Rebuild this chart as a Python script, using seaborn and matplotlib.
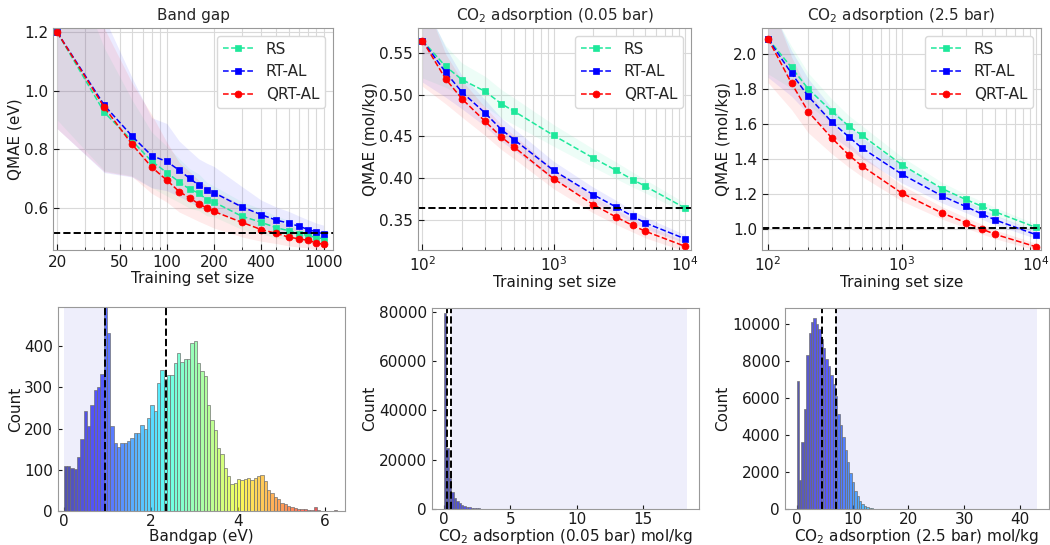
import numpy as np
import pandas as pd
import seaborn as sns
import matplotlib
matplotlib.use("Agg")
import matplotlib.pyplot as plt
from matplotlib.ticker import FixedLocator, ScalarFormatter, NullFormatter, LogLocator

# ---- learning curves (QMAE vs training set size) ----
bg_sizes = [20, 40, 60, 80, 100, 120, 140, 160, 180, 200, 300, 400, 500, 600, 700, 800, 900, 1000]
bg_rs = [1.20, 0.926, 0.829, 0.759, 0.720, 0.688, 0.663, 0.650, 0.627, 0.619, 0.571, 0.550, 0.531, 0.521, 0.511, 0.504, 0.498, 0.493]
bg_rt = [1.20, 0.950, 0.845, 0.778, 0.758, 0.728, 0.700, 0.677, 0.662, 0.651, 0.603, 0.576, 0.557, 0.547, 0.536, 0.525, 0.517, 0.510]
bg_qrt = [1.20, 0.943, 0.817, 0.739, 0.694, 0.655, 0.633, 0.613, 0.599, 0.587, 0.550, 0.525, 0.512, 0.499, 0.493, 0.488, 0.479, 0.474]
# band half widths (below, above)
bg_rs_lo = [0.30, 0.20, 0.12, 0.09, 0.08, 0.07, 0.065, 0.06, 0.055, 0.05, 0.045, 0.04, 0.035, 0.03, 0.028, 0.026, 0.024, 0.022]
bg_rs_hi = [0.35, 0.22, 0.14, 0.10, 0.09, 0.08, 0.07, 0.065, 0.06, 0.055, 0.05, 0.045, 0.04, 0.035, 0.03, 0.028, 0.026, 0.024]
bg_rt_lo = [0.33, 0.23, 0.14, 0.11, 0.10, 0.09, 0.08, 0.075, 0.07, 0.065, 0.05, 0.045, 0.04, 0.035, 0.033, 0.03, 0.028, 0.027]
bg_rt_hi = [0.40, 0.30, 0.20, 0.13, 0.13, 0.10, 0.095, 0.09, 0.09, 0.09, 0.07, 0.05, 0.045, 0.04, 0.035, 0.033, 0.03, 0.03]
bg_qrt_lo = [0.33, 0.22, 0.11, 0.09, 0.075, 0.07, 0.065, 0.06, 0.058, 0.057, 0.05, 0.04, 0.035, 0.03, 0.028, 0.026, 0.022, 0.02]
bg_qrt_hi = [0.40, 0.27, 0.21, 0.18, 0.13, 0.10, 0.09, 0.08, 0.075, 0.07, 0.06, 0.05, 0.045, 0.04, 0.035, 0.032, 0.03, 0.028]
bg_ref = 0.513

co2_sizes = [100, 150, 200, 300, 400, 500, 1000, 2000, 3000, 4000, 5000, 10000]
p005_rs = [0.565, 0.534, 0.518, 0.504, 0.489, 0.480, 0.451, 0.424, 0.409, 0.398, 0.390, 0.364]
p005_rt = [0.565, 0.527, 0.503, 0.478, 0.458, 0.446, 0.409, 0.380, 0.365, 0.354, 0.346, 0.327]
p005_qrt = [0.565, 0.519, 0.495, 0.468, 0.449, 0.437, 0.399, 0.368, 0.353, 0.343, 0.336, 0.318]
p005_rs_sd = [0.045, 0.025, 0.02, 0.018, 0.017, 0.016, 0.013, 0.011, 0.010, 0.009, 0.008, 0.006]
p005_rt_sd = [0.05, 0.03, 0.02, 0.016, 0.014, 0.013, 0.011, 0.009, 0.008, 0.007, 0.007, 0.005]
p005_qrt_sd = [0.055, 0.03, 0.022, 0.017, 0.015, 0.014, 0.012, 0.010, 0.009, 0.008, 0.008, 0.006]
p005_ref = 0.3645

p25_rs = [2.086, 1.922, 1.800, 1.672, 1.589, 1.537, 1.368, 1.232, 1.170, 1.130, 1.099, 1.011]
p25_rt = [2.086, 1.888, 1.758, 1.611, 1.528, 1.465, 1.314, 1.190, 1.130, 1.086, 1.053, 0.970]
p25_qrt = [2.086, 1.832, 1.670, 1.520, 1.425, 1.362, 1.206, 1.093, 1.038, 1.000, 0.971, 0.901]
p25_rs_sd = [0.20, 0.12, 0.09, 0.07, 0.06, 0.055, 0.045, 0.035, 0.03, 0.028, 0.025, 0.02]
p25_rt_sd = [0.22, 0.13, 0.10, 0.08, 0.065, 0.06, 0.05, 0.04, 0.035, 0.03, 0.028, 0.022]
p25_qrt_sd = [0.25, 0.15, 0.12, 0.09, 0.07, 0.06, 0.045, 0.035, 0.03, 0.028, 0.025, 0.02]
p25_ref = 1.008

# ---- property distributions (histogram counts) ----
bg_bin_width = 0.0766
bg_max = 6.28
bg_counts = [110, 108, 104, 102, 131, 174, 243, 206, 258, 293, 301, 333, 500, 431,
             206, 165, 156, 164, 164, 170, 178, 190, 190, 208, 198, 226, 256, 243,
             311, 343, 321, 329, 331, 358, 384, 361, 370, 369, 407, 412,
             359, 339, 327, 256, 221, 197, 152, 138, 105, 85, 66, 68, 78, 75, 78,
             80, 74, 80, 86, 88, 72,
             52, 43, 34, 28, 20, 16, 11, 9, 7, 6, 6, 4, 3, 3, 9, 2, 1, 1, 0, 1, 2]
bg_cuts = [0.94, 2.34]
bg_shade = (0.0, 0.94)

p005_bin_width = 0.183
p005_max = 18.3
p005_counts = [79400, 24800, 12500, 6900, 4550, 3200, 2300, 1700, 1250, 950, 700, 520,
               400, 300, 230, 180, 140, 110, 85, 65, 50, 40, 32, 25, 20, 16, 13, 10,
               8, 6, 5, 4, 3, 3, 2, 2, 1, 1]
p005_cuts = [0.2, 0.55]
p005_shade = (0.55, 18.3)

p25_bin_width = 0.43
p25_max = 43.0
p25_counts = [6900, 1550, 3600, 5400, 8300, 9500, 10100, 10300, 10000, 9700, 9200,
              8700, 8100, 7700, 7250, 6750, 6100, 5150, 4550, 3900, 3200, 2550, 1950,
              1450, 1000, 700, 450, 280, 170, 100, 60, 35, 20, 12, 8, 5, 3, 2, 1, 1]
p25_cuts = [4.5, 7.1]
p25_shade = (7.1, 43.0)

names = ["RS", "RT-AL", "QRT-AL"]
colors = ["#1ee89b", "#0000ff", "#ff0000"]
markers = ["s", "s", "o"]

sns.set_style("whitegrid")
plt.rcParams.update({
    "font.family": ["DejaVu Sans"],
    "font.size": 11,
    "axes.edgecolor": "0.6",
    "grid.color": "0.85",
    "axes.labelcolor": "0.1",
    "xtick.color": "0.1",
    "ytick.color": "0.1",
})

fig = plt.figure(figsize=(10.5, 5.45), dpi=100)
ax_top = [fig.add_axes([0.0505, 0.5413, 0.2667, 0.4073]),
          fig.add_axes([0.3981, 0.5413, 0.2600, 0.4073]),
          fig.add_axes([0.7257, 0.5413, 0.2657, 0.4073])]
ax_bot = [fig.add_axes([0.0552, 0.0624, 0.2733, 0.3743]),
          fig.add_axes([0.4114, 0.0660, 0.2543, 0.3688]),
          fig.add_axes([0.7476, 0.0660, 0.2514, 0.3688])]


def learning_curve(ax, sizes, series, bands, ref, title, ylabel, xlim, ylim):
    for y, (lo, hi), c in zip(series, bands, colors):
        y = np.array(y)
        ax.fill_between(sizes, y - np.array(lo), y + np.array(hi), color=c, alpha=0.08, lw=0)
    for y, name, c, m in zip(series, names, colors, markers):
        sns.lineplot(x=sizes, y=y, ax=ax, color=c, marker=m, linestyle="--", lw=1.1,
                     markersize=5, markeredgecolor=c, markeredgewidth=0.5, label=name)
    ax.axhline(ref, color="k", ls="--", lw=1.4)
    ax.set_xscale("log")
    ax.set_xlim(*xlim)
    ax.set_ylim(*ylim)
    ax.xaxis.set_minor_locator(LogLocator(base=10, subs=np.arange(2, 10)))
    ax.xaxis.set_minor_formatter(NullFormatter())
    ax.grid(True, which="both", axis="x", color="0.85", lw=0.8)
    ax.grid(True, which="major", axis="y", color="0.85", lw=0.8)
    ax.tick_params(which="both", direction="in", bottom=True, left=True)
    ax.tick_params(which="major", length=4)
    ax.tick_params(which="minor", length=2)
    ax.set_title(title, fontsize=11)
    ax.set_xlabel("Training set size", labelpad=1)
    ax.set_ylabel(ylabel, labelpad=1)
    ax.legend(loc="upper right", fontsize=11, framealpha=1, edgecolor="0.85")


learning_curve(ax_top[0], bg_sizes, [bg_rs, bg_rt, bg_qrt],
               [(bg_rs_lo, bg_rs_hi), (bg_rt_lo, bg_rt_hi), (bg_qrt_lo, bg_qrt_hi)],
               bg_ref, "Band gap", "QMAE (eV)", (18.8, 1150), (0.455, 1.215))
ax_top[0].xaxis.set_major_locator(FixedLocator([20, 50, 100, 200, 400, 1000]))
ax_top[0].xaxis.set_major_formatter(ScalarFormatter())
ax_top[0].set_yticks([0.6, 0.8, 1.0, 1.2])

learning_curve(ax_top[1], co2_sizes, [p005_rs, p005_rt, p005_qrt],
               [(p005_rs_sd, p005_rs_sd), (p005_rt_sd, p005_rt_sd), (p005_qrt_sd, p005_qrt_sd)],
               p005_ref, "CO$_2$ adsorption (0.05 bar)", "QMAE (mol/kg)", (92.5, 11140), (0.3135, 0.580))

learning_curve(ax_top[2], co2_sizes, [p25_rs, p25_rt, p25_qrt],
               [(p25_rs_sd, p25_rs_sd), (p25_rt_sd, p25_rt_sd), (p25_qrt_sd, p25_qrt_sd)],
               p25_ref, "CO$_2$ adsorption (2.5 bar)", "QMAE (mol/kg)", (90.2, 10960), (0.882, 2.147))


def distribution(ax, counts, width, vmax, cuts, shade, xlabel, xlim, ylim):
    edges = [i * width for i in range(len(counts) + 1)]
    centers = [e + width / 2 for e in edges[:-1]]
    df = pd.DataFrame({"value": centers, "count": counts})
    sns.histplot(data=df, x="value", weights="count", bins=edges, ax=ax,
                 edgecolor="0.45", linewidth=0.5)
    for patch, c in zip(ax.patches, centers):
        patch.set_facecolor(plt.cm.jet(c / vmax, alpha=0.65))
    ax.axvspan(shade[0], shade[1], color="#eeeefb", zorder=0, lw=0)
    for c in cuts:
        ax.axvline(c, color="k", ls="--", lw=1.4)
    ax.grid(False)
    ax.set_xlim(*xlim)
    ax.set_ylim(*ylim)
    ax.tick_params(direction="in", bottom=True, left=True, length=3)
    ax.tick_params(axis="x", pad=2)
    ax.set_xlabel(xlabel, labelpad=0)
    ax.set_ylabel("Count", labelpad=1)


distribution(ax_bot[0], bg_counts, bg_bin_width, bg_max, bg_cuts, bg_shade,
             "Bandgap (eV)", (-0.13, 6.46), (0, 495))
distribution(ax_bot[1], p005_counts, p005_bin_width, p005_max, p005_cuts, p005_shade,
             "CO$_2$ adsorption (0.05 bar) mol/kg", (-0.9, 19.2), (0, 81500))
distribution(ax_bot[2], p25_counts, p25_bin_width, p25_max, p25_cuts, p25_shade,
             "CO$_2$ adsorption (2.5 bar) mol/kg", (-2.1, 45.2), (0, 10850))
ax_bot[0].set_yticks([0, 100, 200, 300, 400])
ax_bot[1].set_yticks([0, 20000, 40000, 60000, 80000])
ax_bot[2].set_yticks([0, 2000, 4000, 6000, 8000, 10000])

fig.savefig("out.png", dpi=100)
